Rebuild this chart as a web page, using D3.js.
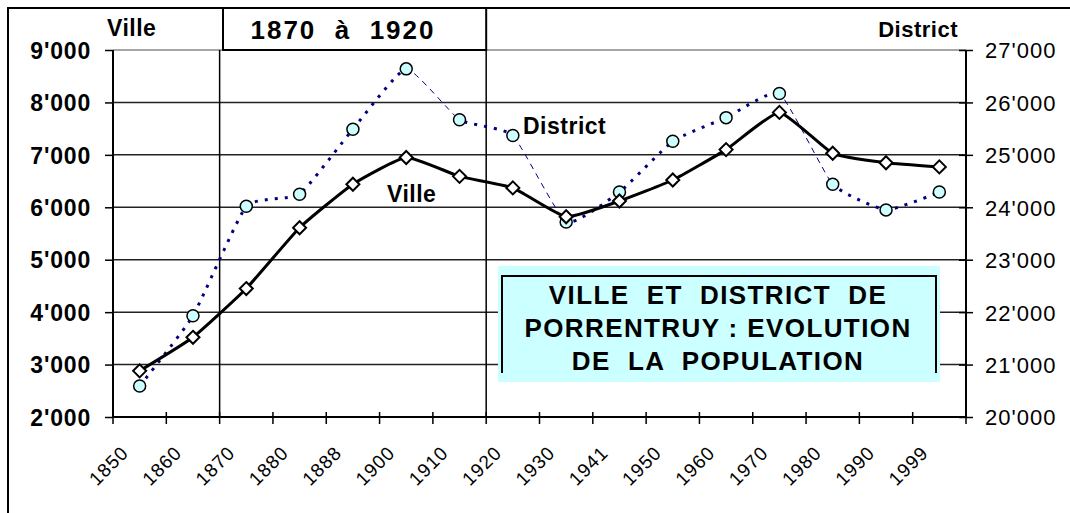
<!DOCTYPE html>
<html>
<head>
<meta charset="utf-8">
<script src="https://cdn.jsdelivr.net/npm/d3@7"></script>
<style>
  body { margin: 0; background: #fff; }
  svg { display: block; font-family: "Liberation Sans", Arial, sans-serif; }
</style>
</head>
<body>
<div id="chart"></div>
<script>
// population, Porrentruy town (left axis) and district (right axis)
var years = ["1850", "1860", "1870", "1880", "1888", "1900", "1910", "1920",
             "1930", "1941", "1950", "1960", "1970", "1980", "1990", "1999"];
var ville = [2880, 3520, 4450, 5610, 6440, 6950, 6590, 6370,
             5820, 6120, 6520, 7100, 7810, 7030, 6850, 6770];
var district = [20590, 21930, 24020, 24250, 25490, 26640, 25670, 25370,
                23720, 24290, 25260, 25710, 26170, 24440, 23950, 24290];
var villeTicks = [2000, 3000, 4000, 5000, 6000, 7000, 8000, 9000];
var districtTicks = [20000, 21000, 22000, 23000, 24000, 25000, 26000, 27000];
// district segments drawn thin (start year of segment)
var districtThin = ["1900", "1920", "1970"];
var period = ["1870", "1920"];
var titleLines = ["VILLE  ET  DISTRICT  DE", "PORRENTRUY : EVOLUTION", "DE  LA  POPULATION"];

var width = 1070, height = 513;
var pLeft = 113, pRight = 966, pTop = 50, pBottom = 417;

var svg = d3.select("#chart").append("svg")
    .attr("width", width)
    .attr("height", height);

var loc = d3.formatLocale({ decimal: ".", thousands: "'", grouping: [3], currency: ["", ""] });
var fmt = loc.format(",");

var x = d3.scaleBand().domain(years).range([pLeft, pRight]);
var bw = x.bandwidth();
var cx = function(d) { return x(d) + bw / 2; };
var yL = d3.scaleLinear().domain([2000, 9000]).range([pBottom, pTop]);
var yR = d3.scaleLinear().domain([20000, 27000]).range([pBottom, pTop]);

// outer frame (cut by the picture edges)
svg.append("path")
    .attr("d", "M8," + height + "V8H" + width)
    .attr("fill", "none").attr("stroke", "#000").attr("stroke-width", 2);

// gridlines
svg.append("g").selectAll("line")
    .data(villeTicks.slice(1))
    .join("line")
    .attr("x1", pLeft).attr("x2", pRight)
    .attr("y1", function(d) { return yL(d); })
    .attr("y2", function(d) { return yL(d); })
    .attr("stroke", function(d) { return d === 9000 ? "#888" : "#222"; })
    .attr("stroke-width", 1.5);

// period lines
svg.append("g").selectAll("line")
    .data(period)
    .join("line")
    .attr("x1", function(d) { return x(d); })
    .attr("x2", function(d) { return x(d); })
    .attr("y1", pTop).attr("y2", pBottom)
    .attr("stroke", "#000").attr("stroke-width", 1.5);

// left axis
var gL = svg.append("g").attr("transform", "translate(" + pLeft + ",0)")
    .call(d3.axisLeft(yL).tickValues(villeTicks).tickFormat(fmt).tickSize(8).tickPadding(14));
gL.select(".domain").attr("stroke-width", 2).attr("d", "M0," + pBottom + "V" + pTop);
gL.selectAll(".tick line").attr("stroke-width", 1.5);
gL.selectAll("text").attr("font-size", 23).attr("font-weight", "bold")
    .attr("letter-spacing", 0.8).attr("fill", "#000").attr("dy", "0.36em");

// right axis
var gR = svg.append("g").attr("transform", "translate(" + pRight + ",0)")
    .call(d3.axisRight(yR).tickValues(districtTicks).tickFormat(fmt).tickSize(7).tickPadding(12));
gR.select(".domain").attr("stroke-width", 2).attr("d", "M0," + pBottom + "V" + pTop);
gR.selectAll(".tick line").attr("x1", -7).attr("stroke-width", 1.5);
gR.selectAll("text").attr("font-size", 22).attr("letter-spacing", 1)
    .attr("fill", "#000").attr("dy", "0.36em");

// bottom axis (ticks at band edges)
var edges = years.map(function(d) { return x(d); }).concat([pRight]);
svg.append("line")
    .attr("x1", pLeft).attr("x2", pRight).attr("y1", pBottom).attr("y2", pBottom)
    .attr("stroke", "#000").attr("stroke-width", 2);
svg.append("g").selectAll("line")
    .data(edges)
    .join("line")
    .attr("x1", function(d) { return d; }).attr("x2", function(d) { return d; })
    .attr("y1", pBottom - 5).attr("y2", pBottom + 7)
    .attr("stroke", "#000").attr("stroke-width", 1.5);
svg.append("g").selectAll("text")
    .data(years)
    .join("text")
    .attr("transform", function(d) { return "translate(" + (cx(d) - 10) + "," + (pBottom + 37) + ") rotate(-45)"; })
    .attr("text-anchor", "end")
    .attr("font-size", 19)
    .attr("letter-spacing", 1)
    .text(function(d) { return d; });

// title box
var box = svg.append("g");
box.append("rect")
    .attr("x", 498).attr("y", 266).attr("width", 442).attr("height", 116)
    .attr("fill", "#ccffff");
box.append("path")
    .attr("d", "M502,373V276H936V373")
    .attr("fill", "none").attr("stroke", "#000").attr("stroke-width", 2);
box.selectAll("text")
    .data(titleLines)
    .join("text")
    .attr("x", 718)
    .attr("y", function(d, i) { return 304 + i * 33; })
    .attr("text-anchor", "middle")
    .attr("font-size", 26).attr("font-weight", "bold").attr("letter-spacing", 1.4)
    .style("white-space", "pre")
    .text(function(d) { return d; });

// period label box
svg.append("rect")
    .attr("x", 223).attr("y", 8).attr("width", x(period[1]) - 223).attr("height", pTop - 8)
    .attr("fill", "#fff").attr("stroke", "#000").attr("stroke-width", 2);
svg.append("text")
    .attr("x", 343).attr("y", 39)
    .attr("text-anchor", "middle")
    .attr("font-size", 26).attr("font-weight", "bold").attr("letter-spacing", 2)
    .style("white-space", "pre")
    .text(period[0] + "  à  " + period[1]);

// axis titles
svg.append("text").attr("x", 107).attr("y", 36)
    .attr("font-size", 23).attr("font-weight", "bold").attr("letter-spacing", 0.5).text("Ville");
svg.append("text").attr("x", 958).attr("y", 37).attr("text-anchor", "end")
    .attr("font-size", 22).attr("font-weight", "bold").attr("letter-spacing", 0.5).text("District");

// district line: clip by segments
var defs = svg.append("defs");
var thickClip = defs.append("clipPath").attr("id", "clip-thick");
var thinClip = defs.append("clipPath").attr("id", "clip-thin");
years.slice(0, -1).forEach(function(d, i) {
    var target = districtThin.indexOf(d) >= 0 ? thinClip : thickClip;
    target.append("rect")
        .attr("x", cx(d)).attr("y", 0)
        .attr("width", cx(years[i + 1]) - cx(d)).attr("height", height);
});

var smooth = d3.curveCardinal.tension(0.55);

var distLine = d3.line()
    .x(function(d, i) { return cx(years[i]); })
    .y(function(d) { return yR(d); })
    .curve(smooth);

svg.append("path")
    .datum(district)
    .attr("d", distLine)
    .attr("clip-path", "url(#clip-thick)")
    .attr("fill", "none").attr("stroke", "#000080")
    .attr("stroke-width", 3).attr("stroke-dasharray", "3,7");
svg.append("path")
    .datum(district)
    .attr("d", distLine)
    .attr("clip-path", "url(#clip-thin)")
    .attr("fill", "none").attr("stroke", "#000080")
    .attr("stroke-width", 1).attr("stroke-dasharray", "6,5");

// ville line
var villeLine = d3.line()
    .x(function(d, i) { return cx(years[i]); })
    .y(function(d) { return yL(d); })
    .curve(smooth);

svg.append("path")
    .datum(ville)
    .attr("d", villeLine)
    .attr("fill", "none").attr("stroke", "#000").attr("stroke-width", 3);

// markers
svg.append("g").selectAll("circle")
    .data(district)
    .join("circle")
    .attr("cx", function(d, i) { return cx(years[i]); })
    .attr("cy", function(d) { return yR(d); })
    .attr("r", 6)
    .attr("fill", "#ccffff").attr("stroke", "#000").attr("stroke-width", 1.5);

svg.append("g").selectAll("path")
    .data(ville)
    .join("path")
    .attr("transform", function(d, i) { return "translate(" + cx(years[i]) + "," + yL(d) + ")"; })
    .attr("d", "M0,-6.5L6.5,0L0,6.5L-6.5,0Z")
    .attr("fill", "#fff").attr("stroke", "#000").attr("stroke-width", 2);

// series labels
svg.append("text").attr("x", 523).attr("y", 134)
    .attr("font-size", 23).attr("font-weight", "bold").attr("letter-spacing", 0.5).text("District");
svg.append("text").attr("x", 387).attr("y", 202)
    .attr("font-size", 23).attr("font-weight", "bold").attr("letter-spacing", 0.5).text("Ville");
</script>
</body>
</html>
